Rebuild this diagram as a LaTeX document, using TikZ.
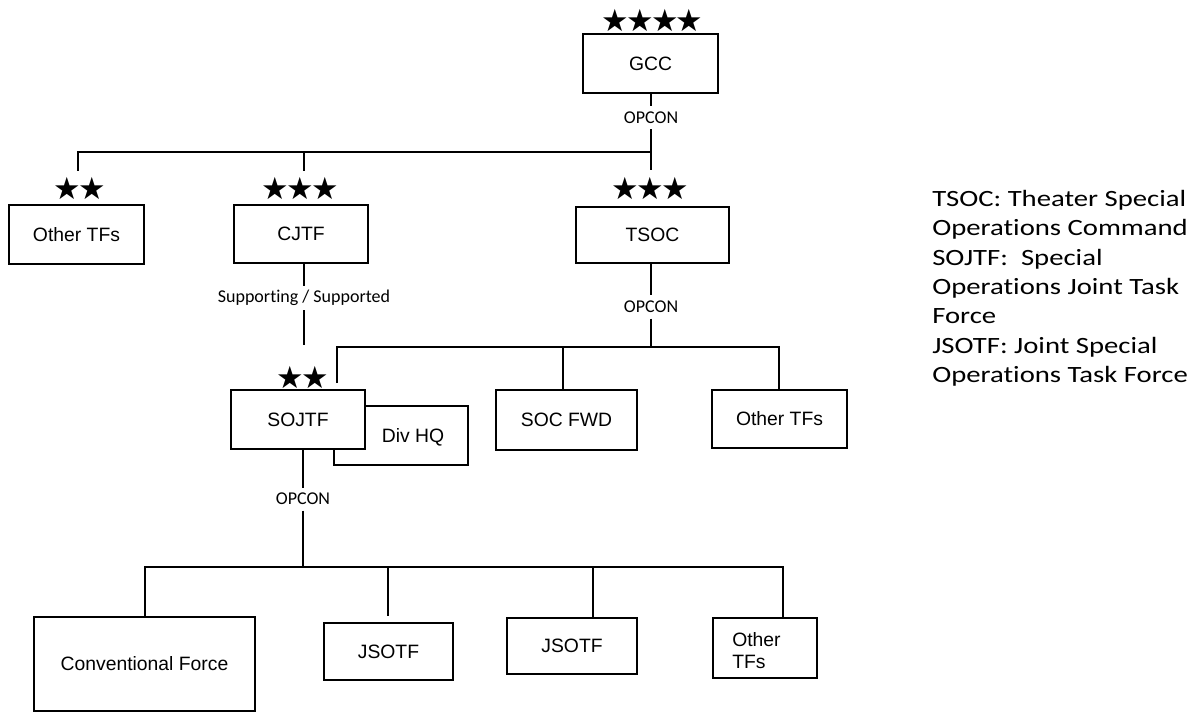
\documentclass[tikz,border=0pt]{standalone}
\usepackage{fontspec}
\setmainfont{Liberation Sans}
\newfontfamily\calfont[Ligatures=NoCommon]{Carlito}
\newfontfamily\legfont[Ligatures=NoCommon,FakeStretch=1.23]{Carlito}
\newfontfamily\symfont{DejaVu Sans}
\newcommand{\stk}{\kern-2pt}
\begin{document}
\begin{tikzpicture}[x=0.75pt,y=-0.75pt,
  bx/.style={draw, line width=1.5pt, fill=white, inner sep=0pt, font=\fontsize{14.5}{17}\selectfont},
  wh/.style 2 args={minimum width=#1*0.75pt, minimum height=#2*0.75pt},
  lbl/.style={font=\calfont\fontsize{13.5}{16}\selectfont, inner xsep=2pt, inner ysep=4pt},
  stars/.style={font=\symfont\fontsize{23}{26}\selectfont, inner sep=0pt},
  ln/.style={line width=1.5pt}]
\useasboundingbox (0,0) rectangle (1201,712);

% boxes
\node[bx, wh={135}{59}] (gcc) at (650.5,63.5) {GCC};
\node[bx, wh={135}{59}] (oth1) at (76.5,234.5) {Other TFs};
\node[bx, wh={134}{58}] (cjtf) at (301,234) {CJTF};
\node[bx, wh={153}{56}] (tsoc) at (652.5,235) {TSOC};
\node[bx, wh={134}{59}] (divhq) at (401,435.5) {};
\node[font=\fontsize{14.5}{17}\selectfont] (divhqt) at (413,437) {Div HQ};
\node[bx, wh={134}{59}] (sojtf) at (298,419.5) {SOJTF};
\node[bx, wh={141}{60}] (socfwd) at (566.5,420) {SOC FWD};
\node[bx, wh={135}{58}] (oth2) at (779.5,419) {Other TFs};
\node[bx, wh={221}{94}] (conv) at (144.5,664) {Conventional Force};
\node[bx, wh={129}{57}] (jsotf1) at (388.5,651.5) {JSOTF};
\node[bx, wh={130}{56}] (jsotf2) at (572,646) {JSOTF};
\node[bx, wh={104}{60}] (oth3) at (765,648) {};
\begin{scope}
  \clip (713,619) rectangle (817,668);
  \node[font=\fontsize{14.5}{17}\selectfont, align=left, anchor=north west, inner sep=0pt] (oth3t) at (732,632) {Other\\TFs};
\end{scope}

% stars
\node[stars] (st-gcc) at (652.5,20) {★\stk★\stk★\stk★};
\node[stars] (st-oth1) at (80,188) {★\stk★};
\node[stars] (st-cjtf) at (300,188) {★\stk★\stk★};
\node[stars] (st-tsoc) at (650,188) {★\stk★\stk★};
\node[stars] (st-sojtf) at (303,377) {★\stk★};

% GCC level
\node[lbl] (op1) at (651,118) {OPCON};
\coordinate (j1) at (651,152);
\coordinate (l1) at (78,152);
\coordinate (l1e) at (78,171);
\coordinate (m1) at (304,152);
\coordinate (m1e) at (304,171);
\coordinate (r1e) at (651,170);
\draw[ln] (gcc.south -| op1) -- (op1.north);
\draw[ln] (op1.south) -- (j1);
\draw[ln] (l1e) -- (l1) -- (j1) -- (r1e);
\draw[ln] (m1) -- (m1e);

% TSOC level
\node[lbl] (op2) at (651,307) {OPCON};
\coordinate (j2) at (651,347);
\coordinate (l2) at (337,347);
\coordinate (l2e) at (337,383);
\coordinate (m2) at (563,347);
\coordinate (r2) at (779,347);
\draw[ln] (tsoc.south -| op2) -- (op2.north);
\draw[ln] (op2.south) -- (j2);
\draw[ln] (l2e) -- (l2) -- (r2) -- (oth2.north -| r2);
\draw[ln] (m2) -- (socfwd.north -| m2);

% CJTF to SOJTF
\node[lbl, inner ysep=3pt] (sup) at (304,298) {Supporting / Supported};
\coordinate (cje) at (304,345);
\draw[ln] (cjtf.south -| sup) -- (sup.north);
\draw[ln] (sup.south) -- (cje);

% SOJTF level
\node[lbl] (op3) at (303,499) {OPCON};
\coordinate (j3) at (303,567);
\coordinate (a3) at (145,567);
\coordinate (b3) at (388,567);
\coordinate (b3e) at (388,616);
\coordinate (c3) at (593,567);
\coordinate (c3e) at (593,617);
\coordinate (d3) at (783,567);
\coordinate (d3e) at (783,617);
\draw[ln] (sojtf.south -| op3) -- (op3.north);
\draw[ln] (op3.south) -- (j3);
\draw[ln] (conv.north -| a3) -- (a3) -- (d3) -- (d3e);
\draw[ln] (b3) -- (b3e);
\draw[ln] (c3) -- (c3e);

% legend
\node[anchor=north west, inner sep=0pt, align=left, font=\legfont\fontsize{17.5}{22}\selectfont] (legend) at (932,190)
  {TSOC: Theater Special\\Operations Command\\SOJTF:~ Special\\Operations Joint Task\\Force\\JSOTF: Joint Special\\Operations Task Force};
\end{tikzpicture}
\end{document}
